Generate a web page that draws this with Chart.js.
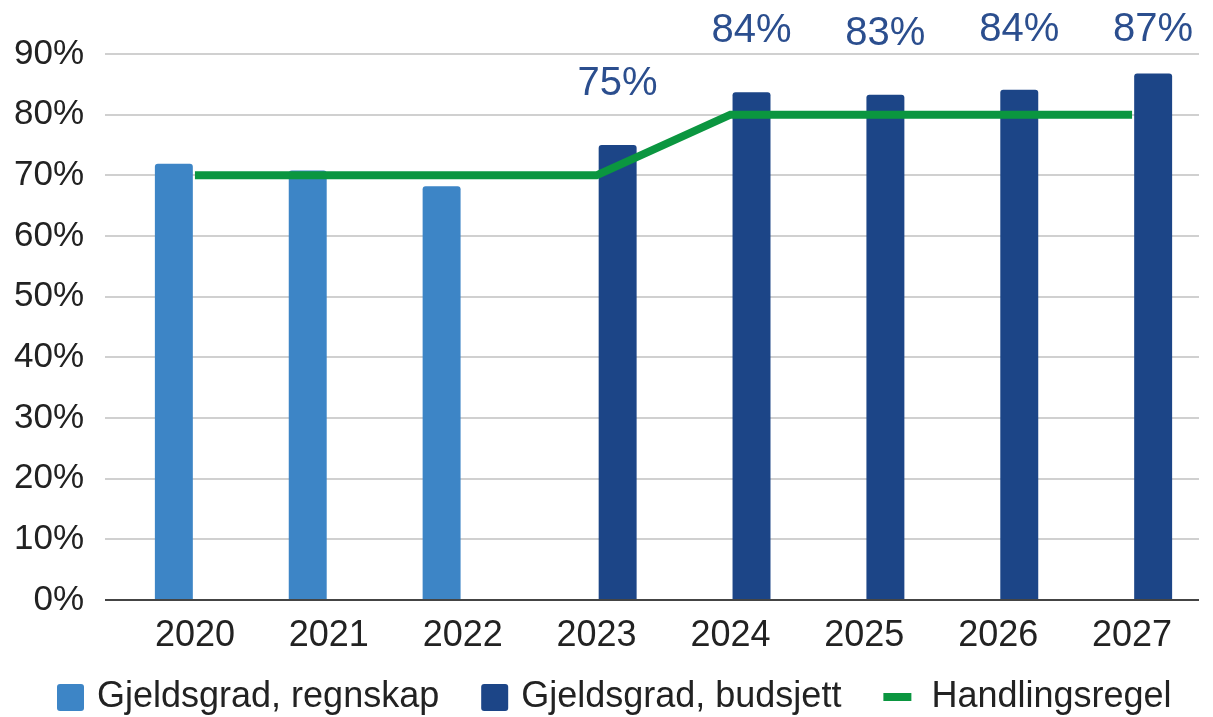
<!DOCTYPE html>
<html>
<head>
<meta charset="utf-8">
<script src="https://cdn.jsdelivr.net/npm/chart.js@4.4.0/dist/chart.umd.min.js"></script>
<style>
  html, body { margin: 0; padding: 0; background: #fff; }
  .chart-container { position: relative; width: 1213px; height: 717px; }
</style>
</head>
<body>
<div class="chart-container"><canvas id="myChart"></canvas></div>
<script>
const years = ['2020', '2021', '2022', '2023', '2024', '2025', '2026', '2027'];
const regnskap = [71.9, 70.8, 68.2, null, null, null, null, null];
const budsjett = [null, null, null, 75.0, 83.7, 83.3, 84.1, 86.8];
const handlingsregel = [70, 70, 70, 70, 80, 80, 80, 80];
const budsjettLabels = [null, null, null, '75%', '84%', '83%', '84%', '87%'];

const FONT = "'Liberation Sans', Arial, sans-serif";
const lightBlue = '#3d85c6';
const darkBlue = '#1c4587';
const green = '#0b9640';

// labels above the budget bars
const barLabels = {
  id: 'barLabels',
  afterDatasetsDraw(chart) {
    const ctx = chart.ctx;
    const meta = chart.getDatasetMeta(1);
    ctx.save();
    ctx.font = '40px ' + FONT;
    ctx.fillStyle = '#2b4e8e';
    ctx.textAlign = 'center';
    ctx.textBaseline = 'middle';
    meta.data.forEach((bar, i) => {
      if (!budsjettLabels[i]) return;
      ctx.fillText(budsjettLabels[i], bar.x, Math.max(bar.y - 61, 30));
    });
    ctx.restore();
  }
};

// simple legend along the bottom
const bottomLegend = {
  id: 'bottomLegend',
  afterDraw(chart) {
    const ctx = chart.ctx;
    const y = 697;
    ctx.save();
    ctx.font = '36px ' + FONT;
    ctx.textBaseline = 'middle';
    let x = 57;
    chart.data.datasets.forEach((ds) => {
      if (ds.type === 'line') {
        ctx.strokeStyle = ds.borderColor;
        ctx.lineWidth = 8;
        ctx.beginPath();
        ctx.moveTo(x, y);
        ctx.lineTo(x + 28, y);
        ctx.stroke();
        x += 48;
      } else {
        ctx.fillStyle = ds.backgroundColor;
        ctx.beginPath();
        ctx.roundRect(x, y - 13, 27, 27, 3);
        ctx.fill();
        x += 40;
      }
      ctx.fillStyle = '#222';
      ctx.fillText(ds.label, x, y);
      x += ctx.measureText(ds.label).width + 42;
    });
    ctx.restore();
  }
};

new Chart(document.getElementById('myChart'), {
  data: {
    labels: years,
    datasets: [{
      type: 'bar',
      label: 'Gjeldsgrad, regnskap',
      data: regnskap,
      backgroundColor: lightBlue,
      borderRadius: { topLeft: 3, topRight: 3 },
      borderSkipped: 'bottom',
      categoryPercentage: 0.63,
      barPercentage: 0.9,
      order: 2
    }, {
      type: 'bar',
      label: 'Gjeldsgrad, budsjett',
      data: budsjett,
      backgroundColor: darkBlue,
      borderRadius: { topLeft: 3, topRight: 3 },
      borderSkipped: 'bottom',
      categoryPercentage: 0.63,
      barPercentage: 0.9,
      order: 2
    }, {
      type: 'line',
      label: 'Handlingsregel',
      data: handlingsregel,
      borderColor: green,
      backgroundColor: green,
      borderWidth: 8,
      borderCapStyle: 'butt',
      pointRadius: 0,
      tension: 0,
      order: 1
    }]
  },
  options: {
    responsive: true,
    maintainAspectRatio: false,
    animation: false,
    layout: { padding: { top: 54, right: 14, bottom: 67, left: 0 } },
    plugins: {
      legend: { display: false },
      tooltip: { enabled: false }
    },
    scales: {
      x: {
        offset: true,
        grid: { display: false, drawTicks: false },
        border: { display: false },
        ticks: { color: '#222', font: { family: FONT, size: 36 }, padding: 14 },
        afterFit(scale) { scale.height = 50; }
      },
      y: {
        min: 0,
        max: 90,
        border: { display: false },
        grid: {
          color: (c) => c.index === 0 ? '#444' : '#d0d0d0',
          lineWidth: 2,
          tickLength: 23,
          drawTicks: true
        },
        ticks: {
          stepSize: 10,
          color: '#222',
          padding: 21,
          font: { family: FONT, size: 35 },
          callback: (v) => v + '%'
        },
        afterFit(scale) { scale.width = 128; }
      }
    }
  },
  plugins: [barLabels, bottomLegend]
});
</script>
</body>
</html>
